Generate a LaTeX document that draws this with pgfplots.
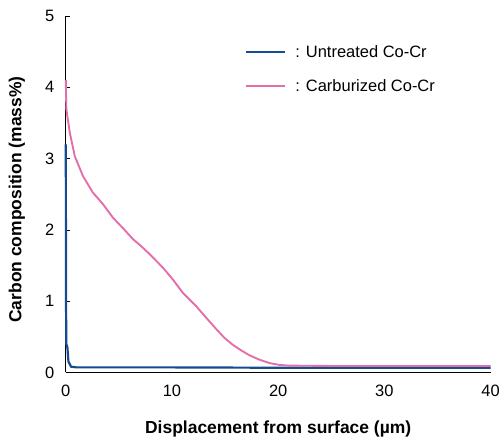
\documentclass[border=0pt]{standalone}
\usepackage{pgfplots}
\pgfplotsset{compat=1.18}
\usepackage{fontspec}
\setmainfont{Liberation Sans}
\definecolor{cblue}{RGB}{20,75,145}
\definecolor{cpink}{RGB}{228,110,170}
\begin{document}
\begin{tikzpicture}
\begin{axis}[
  scale only axis,
  width=426pt, height=357.5pt,
  xmin=0, xmax=40, ymin=0, ymax=5,
  axis lines=left,
  axis line style={-, black, line width=0.8pt},
  xtick={0,10,20,30,40},
  ytick={0,1,2,3,4,5},
  x tick style={draw=none},
  y tick style={black, line width=0.6pt},
  tick align=inside,
  major tick length=4pt,
  tick label style={font=\fontsize{16.5}{19}\selectfont},
  /pgf/number format/assume math mode=true,
  yticklabel style={xshift=-8pt},
  xticklabel style={yshift=-9pt},
  xlabel={\textbf{Displacement from surface (\textmu m)}},
  ylabel={\textbf{Carbon composition (mass\%)}},
  label style={font=\fontsize{17.5}{20}\selectfont},
  xlabel style={at={(axis description cs:0.5,0)}, anchor=base, yshift=-61pt},
  ylabel style={at={(axis description cs:0,0.485)}, anchor=center, yshift=49pt},
  legend style={draw=none, fill=none, at={(axis description cs:0.415,0.93)}, anchor=north west,
    font=\fontsize{16.5}{19}\selectfont, row sep=17pt},
  legend cell align=left,
  legend image code/.code={\draw[#1] (0pt,0pt) -- (39pt,0pt);},
  clip=false,
]
\addplot[cblue, line width=2.2pt] coordinates {
(0,3.2) (0.02,1.0) (0.05,0.4) (0.15,0.35) (0.25,0.15) (0.5,0.08) (1,0.07) (10,0.07) (20,0.065) (30,0.065) (40,0.065)
};
\addlegendentry{\hspace{7pt}: Untreated Co-Cr}
\addplot[cpink, line width=1.9pt] coordinates {
(0,4.1) (0.05,3.7) (0.12,3.62) (0.38,3.36) (0.85,3.03) (1.63,2.75) (2.56,2.52) (3.5,2.36) (4.44,2.17) (5.4,2.02) (6.32,1.87) (7.1,1.77) (7.89,1.66) (9.14,1.47) (10.1,1.30) (11.0,1.12) (12.27,0.93) (13.2,0.77) (14.15,0.61) (14.9,0.49) (15.7,0.39) (16.5,0.31) (17.3,0.24) (18.2,0.18) (19.2,0.13) (20.1,0.105) (21.0,0.095) (25,0.09) (30,0.09) (35,0.09) (40,0.09)
};
\addlegendentry{\hspace{7pt}: Carburized Co-Cr}
\end{axis}
\path (current axis.south west) ++(-66pt,-63.5pt) rectangle ++(503pt,437pt);
\end{tikzpicture}
\end{document}
